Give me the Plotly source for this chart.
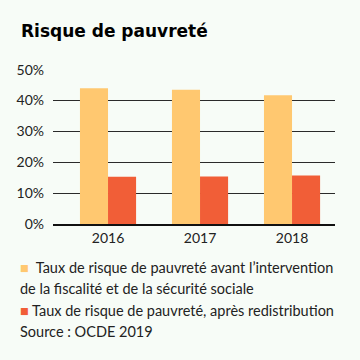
import plotly.graph_objects as go

years = ["2016", "2017", "2018"]
avant = [44.0, 43.5, 41.7]
apres = [15.3, 15.4, 15.7]
y_ticks = [0, 10, 20, 30, 40, 50]
y_labels = ["0%", "10%", "20%", "30%", "40%", "50%"]
label_avant_1 = "Taux de risque de pauvreté avant l’intervention"
label_avant_2 = "de la fiscalité et de la sécurité sociale"
label_apres = "Taux de risque de pauvreté, après redistribution"
source = "Source : OCDE 2019"
title = "Risque de pauvreté"

c_avant = "#FFC870"
c_apres = "#F15E37"
bg = "#F7FCF7"
font = "Lato"

fig = go.Figure()
fig.add_bar(x=years, y=avant, marker=dict(color=c_avant, line=dict(width=0)), name="avant",
            hoverinfo="skip")
fig.add_bar(x=years, y=apres, marker=dict(color=c_apres, line=dict(width=0)), name="apres",
            hoverinfo="skip")

fig.update_layout(
    width=360, height=360,
    margin=dict(l=53, r=25, t=69, b=136),
    paper_bgcolor=bg, plot_bgcolor=bg,
    barmode="group", bargap=0.39, bargroupgap=0,
    showlegend=False,
    font=dict(family=font, size=14, color="#222"),
    xaxis=dict(type="category", range=[-0.598, 2.467], showgrid=False, showline=True,
               linecolor="#111", linewidth=2, ticks="", tickfont=dict(size=14, color="#222"),
               fixedrange=True),
    yaxis=dict(range=[0, 50.2], tickvals=y_ticks, ticktext=y_labels, showgrid=True,
               gridcolor="#2a2a2a", gridwidth=1, zeroline=False, showline=False,
               ticks="", ticklabelstandoff=8, tickfont=dict(size=14, color="#222"),
               fixedrange=True),
)

def px_x(px):
    return (px - 53) / 282

def px_y(py):
    return (224 - py) / 155

fig.add_annotation(xref="paper", yref="paper", x=px_x(19), y=px_y(31),
                   xanchor="left", yanchor="middle", showarrow=False,
                   text="<b>" + title + "</b>",
                   font=dict(family="DejaVu Sans", size=17, color="#000"))

lines = [
    (f"<span style='color:{c_avant}'>■</span>&nbsp; {label_avant_1}", 267),
    (label_avant_2, 288.5),
    (f"<span style='color:{c_apres}'>■</span> {label_apres}", 310),
    (source, 331),
]
for txt, py in lines:
    fig.add_annotation(xref="paper", yref="paper", x=px_x(18), y=px_y(py),
                       xanchor="left", yanchor="middle", align="left", showarrow=False,
                       text=txt, font=dict(family=font, size=14.5, color="#222"))

fig.write_html("out.html", config={"displayModeBar": False},
               post_script="document.body.style.margin='0';document.body.style.background='#F7FCF7';")
